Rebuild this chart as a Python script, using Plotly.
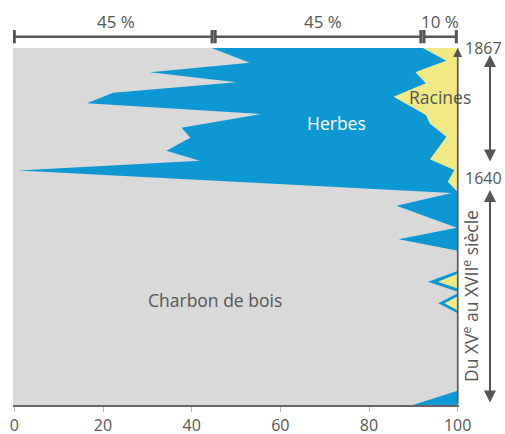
import plotly.graph_objects as go

# ---- data ----
# depth: relative depth in the profile (0 = top / 1867, 357 = bottom / XVe s.)
charbon_prof = [0, 14.7, 24.3, 34.3, 44.7, 55.3, 66, 79.7, 89.7, 102.7, 112.7, 122.5,
                145, 157.7, 179.7, 191.3, 202.7, 223, 233.7, 243.7, 245.3, 255.3, 265.3,
                342.7, 357]
# cumulative % : charbon de bois (limit charbon / herbes)
charbon_limite = [44.5, 53.1, 30.6, 50.1, 22.3, 16.4, 55.7, 37.7, 39.7, 34.3, 41.8, 0.9,
                  98.6, 86.2, 99.8, 86.7, 100, 100, 93.3, 100, 100, 95.6, 100,
                  100, 89.9]
racines_prof = [0, 12.7, 24.3, 35.3, 48.7, 67, 75.3, 88.7, 111.3, 122, 133.7, 143.7,
                226, 233.7, 240.3, 248.5, 255.3, 262.3, 357]
# cumulative % : charbon + herbes (limit herbes / racines)
racines_limite = [92.2, 97.5, 90.5, 92.9, 85.6, 92.9, 93.7, 97.5, 93.8, 99.3, 97.8, 100,
                  100, 95.6, 100, 100, 97.1, 100, 100]
TOTAL = 100

x_ticks = [0, 20, 40, 60, 80, 100]
part_labels = ["45 %", "45 %", "10 %"]
part_bounds = [(0, 44.6), (45.3, 91.7), (92.4, 99.7)]
part_centers = [22.9, 69.6, 96.0]

GRAY = "#d9d9d9"
BLUE = "#0e98d3"
YELLOW = "#f1e983"
TXT = "#555555"
FONT = "Open Sans"
FS = 17.5
FS_NUM = 16


def label(size=FS, color=TXT, **kw):
    d = dict(showarrow=False, xanchor="center", yanchor="middle",
             font=dict(size=size, color=color, family=FONT))
    d.update(kw)
    return d


fig = go.Figure()
fig.add_trace(go.Scatter(x=charbon_limite, y=charbon_prof, mode="lines", fill="tozerox",
                         fillcolor=GRAY, line=dict(width=0, color=GRAY),
                         name="Charbon de bois", hoverinfo="skip"))
fig.add_trace(go.Scatter(x=racines_limite, y=racines_prof, mode="lines", fill="tonextx",
                         fillcolor=BLUE, line=dict(width=0, color=BLUE),
                         name="Herbes", hoverinfo="skip"))
fig.add_trace(go.Scatter(x=[TOTAL, TOTAL], y=[racines_prof[0], racines_prof[-1]], mode="lines",
                         fill="tonextx", fillcolor=YELLOW, line=dict(width=0, color=YELLOW),
                         name="Racines", hoverinfo="skip"))

shapes = []
annotations = []
# top brackets
yb, yc0, yc1 = 1.0317, 1.0132, 1.0504
for (a, b), lab, c in zip(part_bounds, part_labels, part_centers):
    shapes.append(dict(type="line", xref="x", yref="paper", x0=a, x1=b, y0=yb, y1=yb,
                       line=dict(color=TXT, width=2.5)))
    for xx in (a, b):
        shapes.append(dict(type="line", xref="x", yref="paper", x0=xx, x1=xx, y0=yc0, y1=yc1,
                           line=dict(color=TXT, width=3)))
    annotations.append(label(size=17, x=c, xref="x", y=1.0737, yref="paper", text=lab))

# right axis arrow (time)
annotations.append(dict(x=TOTAL, y=0, xref="x", yref="y", ax=TOTAL, ay=357, axref="x", ayref="y",
                        text="", showarrow=True, arrowhead=2, arrowsize=1.2, arrowwidth=1.5,
                        arrowcolor=TXT, standoff=0))
# period arrows (head at top, tail offset in pixels downward)
XA = 1.0695
for ytop, length in [(7, 108), (142, 214)]:
    annotations.append(dict(x=XA, xref="paper", y=ytop, yref="y", ax=0, ay=length,
                            axref="pixel", ayref="pixel", text="", showarrow=True,
                            arrowhead=2, arrowside="end+start", arrowsize=1.2, arrowwidth=2,
                            arrowcolor=TXT, standoff=0, startstandoff=0))
annotations.append(label(size=FS_NUM, x=1.054, xref="paper", y=0.3, yref="y", text="1867"))
annotations.append(label(size=FS_NUM, x=1.054, xref="paper", y=130, yref="y", text="1640"))
annotations.append(label(x=1.0247, xref="paper", y=248, yref="y",
                         text="Du XV<sup>e</sup> au XVII<sup>e</sup> siècle", textangle=-90))
# in-plot labels
annotations.append(label(color="white", x=72.7, y=74.7, xref="x", yref="y", text="Herbes"))
annotations.append(label(x=96.0, y=49.3, xref="x", yref="y", text="Racines"))
annotations.append(label(x=45.3, y=252, xref="x", yref="y", text="Charbon de bois"))

fig.update_layout(
    width=505, height=434, autosize=False,
    margin=dict(l=13, r=46, t=48, b=29, pad=0, autoexpand=False),
    paper_bgcolor="white", plot_bgcolor=GRAY,
    showlegend=False,
    shapes=shapes, annotations=annotations,
    font=dict(family=FONT, color=TXT),
    xaxis=dict(range=[-0.3, 100.3], tickvals=x_ticks, showgrid=False, zeroline=False,
               showline=True, linecolor="#666666", linewidth=2, ticks="outside", ticklen=5,
               tickcolor="#bbbbbb", tickwidth=1, tickfont=dict(size=FS_NUM, color=TXT, family=FONT),
               fixedrange=True, automargin=False),
    yaxis=dict(range=[357, 0], showgrid=False, zeroline=False, showticklabels=False,
               showline=False, fixedrange=True, automargin=False),
)
fig.write_html("out.html", config={"displayModeBar": False},
               post_script="document.body.style.margin='0';document.body.style.overflow='hidden';")
